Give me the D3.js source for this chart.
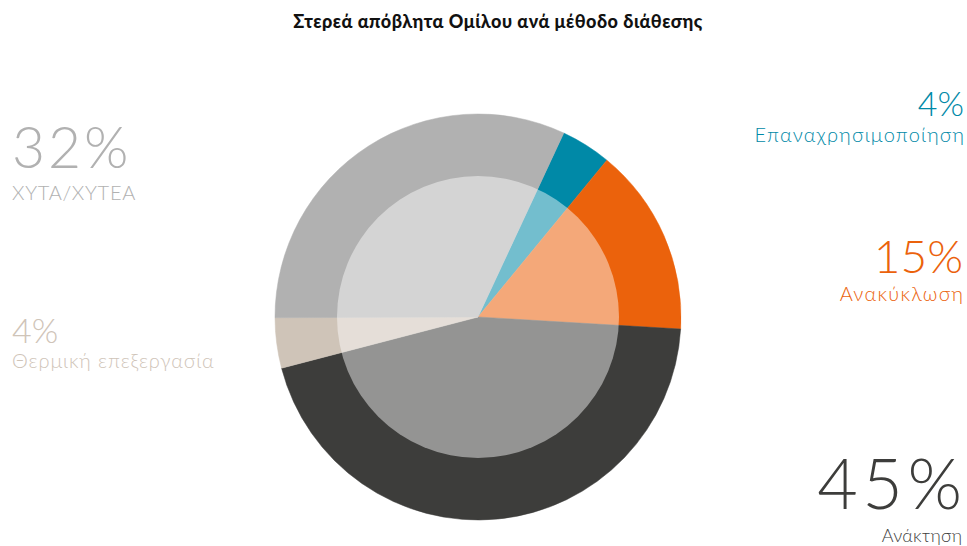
<!DOCTYPE html>
<html>
<head>
<meta charset="utf-8">
<script src="https://cdnjs.cloudflare.com/ajax/libs/d3/7.8.5/d3.min.js"></script>
<style>
  body { margin: 0; background: #fff; }
  text { font-family: Lato, "Noto Sans", sans-serif; }
</style>
</head>
<body>
<script>
// data
var categories = ['Επαναχρησιμοποίηση', 'Ανακύκλωση', 'Ανάκτηση', 'Θερμική επεξεργασία', 'ΧΥΤΑ/ΧΥΤΕΑ'];
var values = [4, 15, 45, 4, 32];
var colors = ['#0089a7', '#eb620c', '#3d3d3b', '#cfc4b8', '#b1b1b1'];

// label layout: x, baseline of percent (y), baseline of name (y2), sizes and spacing
var labelLayout = [
    { x: 964, y: 116, y2: 142, anchor: 'end', big: 34, bigSp: 0, small: 20, smallSp: 1.2 },
    { x: 963, y: 273, y2: 301, anchor: 'end', big: 46, bigSp: 0, small: 20, smallSp: 1.3 },
    { x: 962, y: 509, y2: 542, anchor: 'end', big: 70, bigSp: 4.5, small: 18, smallSp: 0.3 },
    { x: 12, y: 343, y2: 368, anchor: 'start', big: 34, bigSp: 0, small: 20, smallSp: 0.9 },
    { x: 12, y: 168, y2: 200, anchor: 'start', big: 57, bigSp: 3, small: 20, smallSp: 0.7 }
];

var width = 967, height = 546,
    cx = 478, cy = 317,
    outerR = 203, innerR = 141;

var svg = d3.select('body').append('svg')
    .attr('width', width).attr('height', height);

svg.append('text')
    .attr('x', 498).attr('y', 28)
    .attr('text-anchor', 'middle')
    .style('font-weight', 900)
    .style('font-size', '18px')
    .style('letter-spacing', '0.5px')
    .attr('fill', '#111')
    .text('Στερεά απόβλητα Ομίλου ανά μέθοδο διάθεσης');

var pie = d3.pie().sort(null)
    .startAngle(25 * Math.PI / 180)
    .endAngle(25 * Math.PI / 180 + 2 * Math.PI);

var arc = d3.arc().innerRadius(0).outerRadius(outerR);

var g = svg.append('g').attr('transform', 'translate(' + cx + ',' + cy + ')');

g.selectAll('path.slice')
    .data(pie(values))
    .enter().append('path')
    .attr('class', 'slice')
    .attr('d', arc)
    .attr('fill', function(d, i) { return colors[i]; })
    .attr('stroke', function(d, i) { return colors[i]; })
    .attr('stroke-width', 0.5);

// lighter inner disc
g.append('circle')
    .attr('r', innerR)
    .attr('fill', '#fff')
    .attr('fill-opacity', 0.45);

// labels
var labels = svg.selectAll('g.lbl')
    .data(categories)
    .enter().append('g')
    .attr('class', 'lbl');

function lx(d, i, sp) {
    var L = labelLayout[i];
    return L.anchor == 'end' ? L.x + L[sp] : L.x;
}

labels.append('text')
    .attr('x', function(d, i) { return lx(d, i, 'bigSp'); })
    .attr('y', function(d, i) { return labelLayout[i].y; })
    .attr('text-anchor', function(d, i) { return labelLayout[i].anchor; })
    .style('font-weight', 300)
    .style('font-size', function(d, i) { return labelLayout[i].big + 'px'; })
    .style('letter-spacing', function(d, i) { return labelLayout[i].bigSp + 'px'; })
    .attr('fill', function(d, i) { return colors[i]; })
    .text(function(d, i) { return values[i] + '%'; });

labels.append('text')
    .attr('x', function(d, i) { return lx(d, i, 'smallSp'); })
    .attr('y', function(d, i) { return labelLayout[i].y2; })
    .attr('text-anchor', function(d, i) { return labelLayout[i].anchor; })
    .style('font-weight', 300)
    .style('font-size', function(d, i) { return labelLayout[i].small + 'px'; })
    .style('letter-spacing', function(d, i) { return labelLayout[i].smallSp + 'px'; })
    .attr('fill', function(d, i) { return colors[i]; })
    .text(function(d) { return d; });
</script>
</body>
</html>
